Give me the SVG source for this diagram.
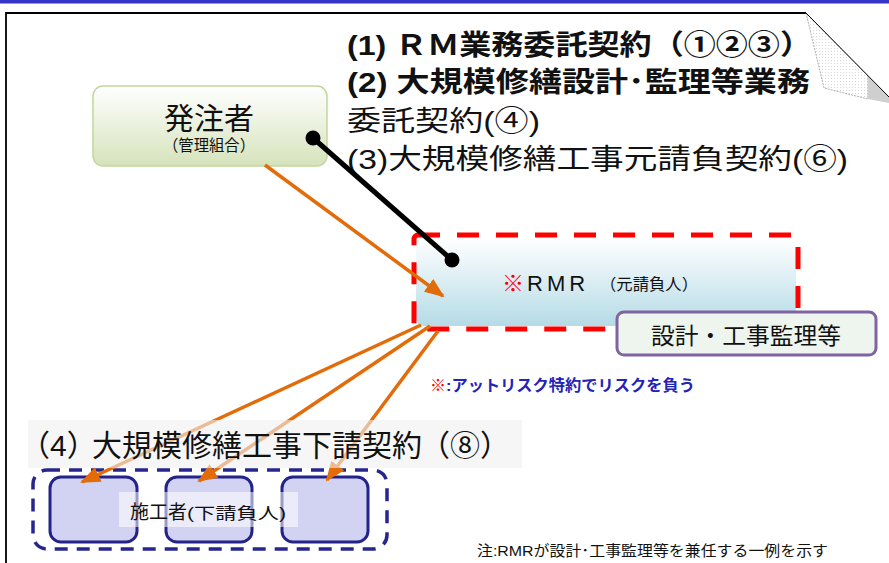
<svg xmlns="http://www.w3.org/2000/svg" width="889" height="563" viewBox="0 0 889 563">
<style>
text{font-family:"Liberation Sans","Noto Sans CJK JP",sans-serif;fill:#111}
.head{font-size:28px}
.b{font-weight:bold}
.orange{stroke:#e36c0a;stroke-width:3.5;fill:none}
.sub{fill:#d2d2f2;stroke:#23238a;stroke-width:3}
</style>
<defs>
<linearGradient id="gGreen" x1="0" y1="0" x2="0" y2="1">
<stop offset="0" stop-color="#ffffff"/><stop offset="1" stop-color="#d5e3bb"/>
</linearGradient>
<linearGradient id="gBlue" x1="0" y1="0" x2="0" y2="1">
<stop offset="0" stop-color="#ffffff"/><stop offset="1" stop-color="#b5dbe6"/>
</linearGradient>
<pattern id="dots" width="3" height="3" patternUnits="userSpaceOnUse">
<rect width="3" height="3" fill="#ffffff"/><rect width="1" height="1" fill="#d8d8d8"/>
</pattern>
<marker id="ah" viewBox="0 0 20 16" refX="18" refY="8" markerWidth="20" markerHeight="16" markerUnits="userSpaceOnUse" orient="auto">
<path d="M0,0 L20,8 L0,16 Z" fill="#e36c0a"/>
</marker>
</defs>
<rect width="889" height="563" fill="#ffffff"/>
<rect x="0" y="0" width="889" height="3.5" fill="#3535c8"/>
<path d="M6,563 V13 H806" fill="none" stroke="#000" stroke-width="1.8"/>
<g id="curl">
<polygon points="806,13 824,88 868,99 868,76" fill="url(#dots)" stroke="#999" stroke-width="0.8" stroke-dasharray="2 1"/>
<polygon points="868,76 889,97 889,103 868,99" fill="#cfcfcf"/>
<line x1="806" y1="13" x2="889" y2="97" stroke="#000" stroke-width="1"/>
</g>
<g id="titles">
<text class="head b" x="347" y="55" textLength="465" lengthAdjust="spacingAndGlyphs">(1) ＲＭ業務委託契約（①②③）</text>
<text class="head b" x="347" y="92" textLength="463" lengthAdjust="spacingAndGlyphs">(2) 大規模修繕設計･監理等業務</text>
<text class="head" x="347" y="131" textLength="193" lengthAdjust="spacingAndGlyphs">委託契約(④)</text>
<text class="head" x="347" y="169" textLength="501" lengthAdjust="spacingAndGlyphs">(3)大規模修繕工事元請負契約(⑥)</text>
</g>
<g id="owner">
<rect x="93" y="86" width="234" height="80" rx="10" fill="url(#gGreen)" stroke="#c3d69b" stroke-width="1.5"/>
<text x="209" y="129" font-size="30" text-anchor="middle">発注者</text>
<text x="209" y="151" font-size="16" text-anchor="middle" textLength="92" lengthAdjust="spacingAndGlyphs">（管理組合）</text>
</g>
<g id="rmr">
<rect x="416" y="238" width="380" height="88" rx="8" fill="url(#gBlue)"/>
<rect x="414" y="235" width="384" height="94" rx="4" fill="none" stroke="#ff0000" stroke-width="5" stroke-dasharray="22 17"/>
<text x="502" y="291" font-size="22" class="b" style="fill:#ff0000">※</text>
<text x="527" y="291" font-size="22" letter-spacing="4">RMR</text>
<text x="600" y="290" font-size="16" textLength="98" lengthAdjust="spacingAndGlyphs">（元請負人）</text>
</g>
<g id="design">
<rect x="617" y="312" width="259" height="43" rx="7" fill="#eef5ef" stroke="#8064a2" stroke-width="3"/>
<text x="746" y="344" font-size="23" text-anchor="middle" textLength="190" lengthAdjust="spacingAndGlyphs">設計・工事監理等</text>
</g>
<g id="atrisk">
<text x="430" y="391" font-size="16" style="fill:#ff0000">※</text>
<text x="446" y="391" font-size="15.5" class="b" style="fill:#2323b8" textLength="249" lengthAdjust="spacingAndGlyphs">:アットリスク特約でリスクを負う</text>
</g>
<g id="subcontractors">
<rect x="33" y="470" width="354" height="79" rx="14" fill="none" stroke="#26268e" stroke-width="3.5" stroke-dasharray="13 9"/>
<rect class="sub" x="50" y="477" width="87" height="65" rx="11"/>
<rect class="sub" x="166" y="477" width="86" height="65" rx="11"/>
<rect class="sub" x="282" y="477" width="86" height="65" rx="11"/>
<rect x="119" y="492" width="179" height="35" fill="#ffffff" fill-opacity="0.55"/>
<text x="130" y="519" font-size="19">施工者</text>
<text x="187" y="519" font-size="16" textLength="99" lengthAdjust="spacingAndGlyphs">(下請負人)</text>
</g>
<g id="connectors">
<line class="orange" x1="265" y1="165" x2="443" y2="296" marker-end="url(#ah)"/>
<line class="orange" x1="421" y1="325" x2="82" y2="482" marker-end="url(#ah)"/>
<line class="orange" x1="430" y1="326" x2="199" y2="481" marker-end="url(#ah)"/>
<line class="orange" x1="438" y1="331" x2="327" y2="480" marker-end="url(#ah)"/>
<line x1="313" y1="138" x2="452" y2="260" stroke="#000" stroke-width="5"/>
<circle cx="313" cy="138" r="7.5" fill="#000"/>
<circle cx="452" cy="260" r="7.5" fill="#000"/>
</g>
<g id="subtitle">
<rect x="28" y="420" width="494" height="48" fill="#f0f0f0" fill-opacity="0.6"/>
<text y="456" font-size="30"><tspan x="20">（4）</tspan><tspan x="92" textLength="330" lengthAdjust="spacingAndGlyphs">大規模修繕工事下請契約</tspan><tspan x="420">（⑧）</tspan></text>
</g>
<text x="477" y="556" font-size="14.5" textLength="351" lengthAdjust="spacingAndGlyphs">注:RMRが設計･工事監理等を兼任する一例を示す</text>
</svg>
